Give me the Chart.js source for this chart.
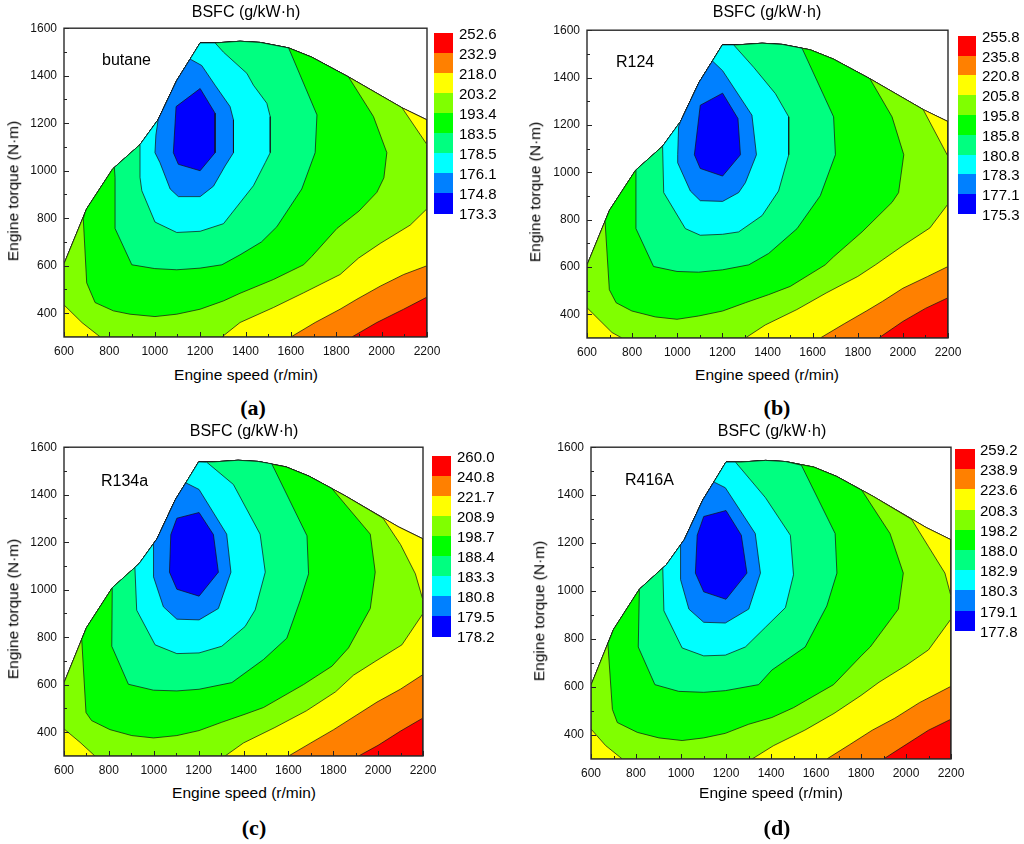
<!DOCTYPE html>
<html><head><meta charset="utf-8">
<script src="https://cdn.jsdelivr.net/npm/chart.js@4.4.1/dist/chart.umd.min.js"></script>
<style>
html,body{margin:0;padding:0;background:#fff;}
#root{position:relative;width:1024px;height:844px;overflow:hidden;font-family:"Liberation Sans",Arial,sans-serif;color:#000;}
canvas{position:absolute;}
.t{position:absolute;white-space:nowrap;line-height:1;}
.c{transform:translate(-50%,-50%);}
.lv{transform:translate(0,-50%);}
.rot{transform:translate(-50%,-50%) rotate(-90deg);}
.box{position:absolute;}
</style></head><body><div id="root"></div>
<script>
// ---------------- data ----------------
const speedTicks = [600, 800, 1000, 1200, 1400, 1600, 1800, 2000, 2200];
const speedMinor = [700, 900, 1100, 1300, 1500, 1700, 1900, 2100];
const torqueTicks = [400, 600, 800, 1000, 1200, 1400, 1600];
const torqueMinor = [500, 700, 900, 1100, 1300, 1500];

const fuelNames = ['butane', 'R124', 'R134a', 'R416A'];
const panelTags = ['(a)', '(b)', '(c)', '(d)'];

const levelsA = ['252.6','232.9','218.0','203.2','193.4','183.5','178.5','176.1','174.8','173.3'];
const levelsB = ['255.8','235.8','220.8','205.8','195.8','185.8','180.8','178.3','177.1','175.3'];
const levelsC = ['260.0','240.8','221.7','208.9','198.7','188.4','183.3','180.8','179.5','178.2'];
const levelsD = ['259.2','238.9','223.6','208.3','198.2','188.0','182.9','180.3','179.1','177.8'];

// engine operating envelope [speed, torque]
const envelope = [[600,300],[600,608],[700,840],[815,1008],[935,1110],[1015,1215],[1097,1380],[1156,1470],
  [1200,1538],[1266,1538],[1376,1545],[1465,1540],[1590,1517],[1692,1478],[1854,1395],[2090,1265],[2200,1214],[2200,300]];

// BSFC band regions (value below each level), outer to inner: head points + envelope slice + tail points
const regionsA = [
  {env:[0,17]},
  {env:[0,16], tail:[[2200,468],[2097,417],[1979,361],[1869,300]]},
  {env:[0,16], tail:[[2200,600],[2097,563],[1994,514],[1891,459],[1817,417],[1707,361],[1600,300]]},
  {head:[[600,435]], env:[1,15], tail:[[2200,1110],[2200,840],[2126,771],[1994,694],[1898,632],[1817,563],[1656,486],[1523,424],[1376,361],[1296,300],[760,300],[680,360]]},
  {head:[[693,824]], env:[2,14], tail:[[1964,1228],[2023,1076],[2010,970],[1979,909],[1900,830],[1803,757],[1692,639],[1656,604],[1523,542],[1376,484],[1303,452],[1200,417],[1097,396],[1001,386],[891,396],[818,410],[737,445],[700,528],[685,798]]},
  {head:[[822,1014]], env:[4,12], tail:[[1715,1235],[1707,1076],[1648,923],[1538,764],[1470,700],[1376,646],[1296,604],[1200,590],[1097,583],[1000,588],[899,604],[825,757],[825,972]]},
  {env:[4,9], tail:[[1303,1499],[1406,1410],[1435,1360],[1494,1284],[1509,1228],[1509,1076],[1487,1034],[1435,937],[1303,777],[1200,745],[1097,740],[1001,784],[943,916],[935,972]]},
  {env:[5,7], tail:[[1207,1443],[1266,1360],[1332,1270],[1347,1214],[1347,1076],[1310,1020],[1259,935],[1200,891],[1104,891],[1068,923],[1023,1034],[1001,1076],[1005,1150]]},
  {tail:[[1200,1346],[1266,1242],[1266,1076],[1200,1000],[1104,1027],[1082,1076],[1094,1270]]}
];
const regionsB = [
  {env:[0,17]},
  {env:[0,16], tail:[[2200,470],[2100,425],[2000,370],[1893,300]]},
  {env:[0,16], tail:[[2200,602],[2110,560],[2000,510],[1910,455],[1840,415],[1740,360],[1634,300]]},
  {head:[[600,428]], env:[1,15], tail:[[2200,1067],[2200,866],[2120,765],[2000,690],[1880,610],[1800,560],[1660,490],[1530,420],[1390,355],[1302,300],[755,300],[711,323]]},
  {head:[[680,793]], env:[2,14], tail:[[1952,1234],[2004,1074],[1981,914],[1952,873],[1819,748],[1693,643],[1656,609],[1501,518],[1405,483],[1302,449],[1201,414],[1095,393],[999,379],[903,389],[799,414],[729,449],[699,504]]},
  {head:[[817,1010]], env:[4,11], tail:[[1553,1524],[1693,1234],[1701,1074],[1634,901],[1531,762],[1405,657],[1317,609],[1201,588],[1095,578],[999,581],[895,602],[817,762]]},
  {env:[4,8], tail:[[1250,1538],[1339,1443],[1435,1332],[1494,1234],[1494,1074],[1449,921],[1376,817],[1272,748],[1201,738],[1102,734],[1036,762],[940,914]]},
  {env:[5,7], tail:[[1201,1429],[1331,1241],[1351,1074],[1302,956],[1272,914],[1201,877],[1102,880],[1058,921],[1002,1040],[1002,1074],[1006,1193]]},
  {tail:[[1201,1334],[1269,1227],[1280,1074],[1201,984],[1102,1016],[1076,1074],[1102,1283]]}
];
const regionsC = [
  {env:[0,17]},
  {env:[0,16], tail:[[2200,460],[2100,405],[2000,345],[1913,300]]},
  {env:[0,16], tail:[[2200,643],[2099,581],[1995,527],[1802,411],[1700,355],[1601,300]]},
  {head:[[600,414]], env:[1,14], tail:[[2022,1301],[2100,1190],[2166,1067],[2200,956],[2200,900],[2106,768],[1990,700],[1890,640],[1810,570],[1680,490],[1540,420],[1400,355],[1318,300],[738,300],[671,358]]},
  {head:[[679,791]], env:[2,13], tail:[[1794,1426],[1965,1234],[1987,1074],[1965,921],[1868,755],[1794,678],[1668,601],[1489,504],[1407,476],[1303,442],[1202,407],[1103,386],[999,376],[902,386],[805,411],[723,449],[698,483]]},
  {env:[3,11], tail:[[1526,1530],[1683,1227],[1690,1067],[1653,956],[1593,796],[1489,706],[1348,609],[1202,581],[1103,574],[999,577],[887,602],[813,762]]},
  {head:[[916,1094]], env:[4,8], tail:[[1236,1537],[1355,1443],[1474,1234],[1497,1074],[1452,915],[1407,845],[1303,762],[1202,734],[1103,731],[1006,768],[924,914]]},
  {head:[[999,1194]], env:[5,6], tail:[[1143,1450],[1202,1422],[1325,1234],[1344,1074],[1288,921],[1202,873],[1103,876],[1043,928],[999,1054]]},
  {tail:[[1202,1325],[1266,1232],[1288,1074],[1202,973],[1103,1002],[1070,1074],[1076,1232],[1103,1301]]}
];
const regionsD = [
  {env:[0,17]},
  {env:[0,16], tail:[[2200,466],[2100,420],[2000,360],[1900,300]]},
  {env:[0,16], tail:[[2200,603],[2060,535],[1950,470],[1850,420],[1750,360],[1648,300]]},
  {head:[[600,425]], env:[1,14], tail:[[2025,1299],[2099,1187],[2173,1075],[2200,979],[2200,884],[2100,755],[2000,690],[1880,620],[1800,565],[1680,490],[1550,420],[1410,355],[1316,300],[739,300],[665,356]]},
  {head:[[675,781]], env:[2,13], tail:[[1804,1420],[1929,1240],[1988,1075],[1966,925],[1841,767],[1804,733],[1678,610],[1500,514],[1404,473],[1301,445],[1197,407],[1101,388],[1005,377],[902,388],[806,411],[717,452],[695,507]]},
  {env:[3,11], tail:[[1535,1525],[1685,1240],[1693,1075],[1648,938],[1552,767],[1404,671],[1345,610],[1197,585],[1101,578],[990,582],[884,610],[810,767]]},
  {head:[[919,1096]], env:[4,8], tail:[[1242,1538],[1375,1390],[1486,1233],[1500,1068],[1464,931],[1375,849],[1286,767],[1197,733],[1101,730],[1005,763],[924,918]]},
  {head:[[998,1193]], env:[5,6], tail:[[1146,1455],[1197,1431],[1330,1240],[1353,1075],[1301,925],[1197,867],[1101,870],[1035,925],[998,1048]]},
  {tail:[[1200,1336],[1268,1233],[1293,1075],[1200,966],[1101,997],[1064,1075],[1072,1233],[1101,1311]]}
];

// ---------------- styles / layout ----------------
const bandColors = ['#FF0000','#FF8000','#FFFF00','#80FF00','#00FF00','#00FF80','#00FFFF','#0080FF','#0000FF'];
const FONT = '"Liberation Sans", Arial, sans-serif';
const layouts = [
  {plot:[64,24,427,337],  title:[246,12],  name:[102,60],  ytitle:[13,191],  xtitle:[246,375], tag:[253,408], bar:[434,33.3,19,20],   lab:459},
  {plot:[587,26,948,338], title:[767,12],  name:[616,62],  ytitle:[535,192], xtitle:[767,375], tag:[777,408], bar:[958,35.7,18,19.8], lab:982},
  {plot:[64,443,423,756], title:[244,431], name:[101,481], ytitle:[13,609],  xtitle:[244,793], tag:[254,828], bar:[432,456.3,19,20],  lab:457},
  {plot:[591,443,951,759],title:[772,431], name:[625,480], ytitle:[539,611], xtitle:[771,793], tag:[777,828], bar:[955,449,20,20.2],  lab:980}
];
const allRegions = [regionsA, regionsB, regionsC, regionsD];
const allLevels = [levelsA, levelsB, levelsC, levelsD];

Chart.defaults.font.family = FONT;
const root = document.getElementById('root');

function buildPolygon(r) {
  const pts = [...(r.head || []), ...(r.env ? envelope.slice(r.env[0], r.env[1] + 1) : []), ...(r.tail || [])];
  pts.push(pts[0]);
  return pts.map(([x, y]) => ({x, y}));
}

const polyFill = {
  id: 'polyFill',
  beforeDatasetDraw(chart, args) {
    const pts = args.meta.data;
    if (!pts || !pts.length) return;
    const ds = chart.data.datasets[args.index];
    const {ctx, chartArea: a} = chart;
    ctx.save();
    ctx.beginPath(); ctx.rect(a.left, a.top, a.width, a.height); ctx.clip();
    ctx.beginPath();
    pts.forEach((p, i) => i ? ctx.lineTo(p.x, p.y) : ctx.moveTo(p.x, p.y));
    ctx.closePath();
    ctx.fillStyle = ds.backgroundColor;
    ctx.fill();
    ctx.restore();
  }
};

const frame = {
  id: 'frame',
  afterDatasetsDraw(chart) {
    const {ctx, chartArea: a, scales: {x, y}} = chart;
    ctx.save();
    ctx.strokeStyle = '#222'; ctx.lineWidth = 1;
    ctx.beginPath();
    const vx = (v, len) => { const p = Math.round(x.getPixelForValue(v)) + 0.5; ctx.moveTo(p, a.bottom); ctx.lineTo(p, a.bottom - len); };
    const vy = (v, len) => { const p = Math.round(y.getPixelForValue(v)) + 0.5; ctx.moveTo(a.left, p); ctx.lineTo(a.left + len, p); };
    speedTicks.forEach(v => vx(v, 5)); speedMinor.forEach(v => vx(v, 3));
    torqueTicks.forEach(v => vy(v, 5)); torqueMinor.forEach(v => vy(v, 3));
    ctx.stroke();
    ctx.lineWidth = 1.4; ctx.strokeStyle = '#2a2a2a';
    ctx.strokeRect(a.left, a.top, a.width, a.height);
    ctx.restore();
  }
};

function addText(txt, x, y, cls, css) {
  const d = document.createElement('div');
  d.className = 't ' + cls; d.textContent = txt;
  d.style.left = x + 'px'; d.style.top = y + 'px';
  Object.assign(d.style, css || {});
  root.appendChild(d);
}

function makePanel(idx) {
  const lay = layouts[idx];
  const [L, T, R, B] = lay.plot;
  const padT = 10, padR = 24, yW = 50, xH = 28;
  const w = yW + (R - L) + padR, h = padT + (B - T) + xH;
  const cv = document.createElement('canvas');
  cv.width = w; cv.height = h;
  cv.style.left = (L - yW) + 'px'; cv.style.top = (T - padT) + 'px';
  cv.style.width = w + 'px'; cv.style.height = h + 'px';
  root.appendChild(cv);

  const regions = allRegions[idx];
  const datasets = regions.map((r, k) => ({
    data: buildPolygon(r),
    backgroundColor: bandColors[k],
    borderColor: 'rgba(20,20,20,0.9)',
    borderWidth: 0.8,
    pointRadius: 0, pointHoverRadius: 0,
    fill: false, tension: 0,
    order: regions.length - k
  }));
  const tickFont = {size: 12, family: FONT};
  new Chart(cv, {
    type: 'line',
    data: {datasets},
    options: {
      responsive: false, animation: false, events: [],
      layout: {padding: {top: padT, right: padR, left: 0, bottom: 0}},
      plugins: {legend: {display: false}, tooltip: {enabled: false}, title: {display: false}},
      scales: {
        x: {type: 'linear', min: 600, max: 2200,
            afterBuildTicks: s => { s.ticks = speedTicks.map(v => ({value: v})); },
            afterFit: s => { s.height = xH; },
            grid: {display: false, drawTicks: false}, border: {display: false},
            ticks: {padding: 7, font: tickFont, color: '#111', maxRotation: 0, autoSkip: false, callback: v => String(v)}},
        y: {type: 'linear', min: 300, max: 1600,
            afterBuildTicks: s => { s.ticks = torqueTicks.map(v => ({value: v})); },
            afterFit: s => { s.width = yW; },
            grid: {display: false, drawTicks: false}, border: {display: false},
            ticks: {padding: 7, font: tickFont, color: '#111', autoSkip: false, callback: v => String(v)}}
      }
    },
    plugins: [polyFill, frame]
  });

  addText('BSFC (g/kW\u00B7h)', lay.title[0], lay.title[1], 'c', {fontSize: '16px'});
  addText(fuelNames[idx], lay.name[0], lay.name[1], 'lv', {fontSize: '16px'});
  addText('Engine torque (N\u00B7m)', lay.ytitle[0], lay.ytitle[1], 'rot', {fontSize: '15.5px'});
  addText('Engine speed (r/min)', lay.xtitle[0], lay.xtitle[1], 'c', {fontSize: '15.5px'});
  addText(panelTags[idx], lay.tag[0], lay.tag[1], 'c', {fontSize: '22px', fontWeight: 'bold', fontFamily: '"Liberation Serif", "Times New Roman", serif'});

  const [bx, by, bw, bh] = lay.bar;
  bandColors.forEach((col, i) => {
    const d = document.createElement('div');
    d.className = 'box';
    Object.assign(d.style, {left: bx + 'px', top: (by + i * bh) + 'px', width: bw + 'px', height: (bh + 0.5) + 'px', background: col});
    root.appendChild(d);
  });
  allLevels[idx].forEach((lv, i) => addText(lv, lay.lab, by + i * bh, 'lv', {fontSize: '15px'}));
}

[0, 1, 2, 3].forEach(makePanel);
</script></body></html>
